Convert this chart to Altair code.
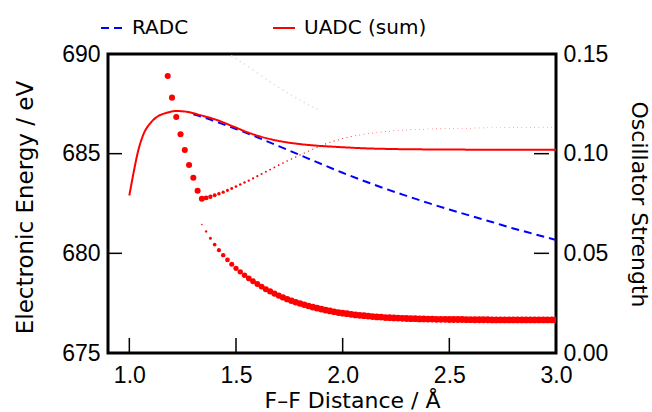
import altair as alt
import numpy as np
import pandas as pd

W, H = 448, 299

# ---- data ----
uadc_x = [1.00, 1.02, 1.04, 1.065, 1.10, 1.135, 1.175, 1.22, 1.27, 1.33, 1.41, 1.49, 1.57,
          1.645, 1.72, 1.80, 1.88, 1.955, 2.10, 2.25, 2.45, 2.70, 3.00]
uadc_E = [682.90, 684.05, 685.08, 685.94, 686.55, 686.88, 687.05, 687.14, 687.10, 686.94, 686.69,
          686.35, 686.01, 685.77, 685.60, 685.48, 685.40, 685.35, 685.27, 685.23, 685.21, 685.20, 685.20]

radc_x = [1.30, 1.35, 1.40, 1.50, 1.60, 1.70, 1.80, 1.90, 2.00, 2.10, 2.20, 2.30, 2.40, 2.50,
          2.60, 2.70, 2.80, 2.90, 3.00]
radc_E = [686.98, 686.82, 686.63, 686.24, 685.82, 685.38, 684.93, 684.48, 684.04, 683.63, 683.24,
          682.88, 682.53, 682.20, 681.88, 681.57, 681.25, 680.96, 680.67]

# upper state (1.18 .. 3.00, step 0.02)
upper_x = np.round(np.arange(1.18, 3.001, 0.02), 2)
upper_E = [688.90, 687.81, 686.84, 685.97, 685.18, 684.43, 683.79, 683.14, 682.74,
           682.78, 682.84, 682.91, 682.99, 683.07, 683.16, 683.25, 683.35, 683.45, 683.55,
           683.65, 683.76, 683.87, 683.98, 684.09, 684.20, 684.31, 684.42, 684.53, 684.63,
           684.73, 684.83, 684.93, 685.03, 685.13, 685.23, 685.32, 685.41, 685.49, 685.57,
           685.64, 685.70, 685.76, 685.81, 685.86, 685.90, 685.94, 685.98, 686.01, 686.04,
           686.07, 686.09, 686.11, 686.13, 686.15, 686.17, 686.18, 686.19, 686.20, 686.21,
           686.22, 686.23, 686.24, 686.24, 686.25, 686.25, 686.26, 686.26, 686.27, 686.27,
           686.28, 686.28, 686.28, 686.29, 686.29, 686.29, 686.30, 686.30, 686.30, 686.30,
           686.31, 686.31, 686.31, 686.31, 686.32, 686.32, 686.32, 686.32, 686.33, 686.33,
           686.33, 686.33, 686.34]
upper_f = [0.074, 0.074, 0.074, 0.074, 0.074, 0.074, 0.074, 0.074, 0.072,
           0.048, 0.038, 0.031, 0.026, 0.022, 0.019, 0.017, 0.015, 0.0135, 0.012,
           0.011, 0.010, 0.0092, 0.0085, 0.0078, 0.0072, 0.0066, 0.0061, 0.0056, 0.0052,
           0.0048, 0.0044, 0.0041, 0.0038, 0.0035, 0.0033, 0.0031, 0.0029, 0.0027, 0.0025,
           0.0024, 0.0022, 0.0021, 0.0020, 0.0020, 0.0019, 0.0019, 0.0018, 0.0018, 0.0017,
           0.0017, 0.0016, 0.0016, 0.0016, 0.0015, 0.0015, 0.0015, 0.0014, 0.0014, 0.0014,
           0.0014, 0.0013, 0.0013, 0.0013, 0.0013, 0.0012, 0.0012, 0.0012, 0.0012, 0.0012,
           0.0011, 0.0011, 0.0011, 0.0011, 0.0011, 0.0011, 0.0010, 0.0010, 0.0010, 0.0010,
           0.0010, 0.0010, 0.0010, 0.0010, 0.0010, 0.0010, 0.0010, 0.0010, 0.0010, 0.0010,
           0.0010, 0.0010, 0.0010]

# lower state (1.34 .. 3.00, step 0.02)
lower_x = np.round(np.arange(1.34, 3.001, 0.02), 2)
lower_E = [681.45, 681.10, 680.76, 680.44, 680.16, 679.91, 679.67, 679.45, 679.25, 679.07,
           678.90, 678.74, 678.60, 678.46, 678.33, 678.20, 678.09, 677.98, 677.88, 677.79,
           677.70, 677.62, 677.55, 677.48, 677.42, 677.36, 677.30, 677.25, 677.20, 677.15,
           677.11, 677.07, 677.03, 677.00, 676.97, 676.94, 676.91, 676.89, 676.87, 676.85,
           676.83, 676.81, 676.80, 676.78, 676.77, 676.76, 676.75, 676.74, 676.73, 676.72,
           676.72, 676.71, 676.71, 676.70, 676.70, 676.69, 676.69, 676.69, 676.68, 676.68,
           676.68, 676.68, 676.67, 676.67, 676.67, 676.67, 676.67, 676.67, 676.66, 676.66,
           676.66, 676.66, 676.66, 676.66, 676.66, 676.66, 676.66, 676.66, 676.66, 676.66,
           676.66, 676.66, 676.66, 676.66]
lower_f = [0.005, 0.011, 0.019, 0.027, 0.034, 0.040, 0.045, 0.050, 0.054, 0.058,
           0.061, 0.064, 0.067, 0.069, 0.071, 0.073, 0.075, 0.077, 0.078, 0.080,
           0.081, 0.082, 0.083, 0.084, 0.085, 0.086, 0.087, 0.087, 0.088, 0.088,
           0.089, 0.089, 0.090, 0.090,
           0.091, 0.091, 0.091, 0.091, 0.091, 0.091, 0.091, 0.091, 0.091, 0.091,
           0.092, 0.092, 0.092, 0.092, 0.092, 0.092, 0.092, 0.092, 0.092, 0.092,
           0.093, 0.093, 0.093, 0.093, 0.093, 0.093, 0.093, 0.093, 0.093, 0.093,
           0.094, 0.094, 0.094, 0.094, 0.094, 0.094, 0.094, 0.094, 0.094, 0.094,
           0.095, 0.095, 0.095, 0.095, 0.095, 0.095, 0.095, 0.095, 0.095, 0.095]

# faint third state
faint_x = [1.48, 1.50, 1.52, 1.54, 1.56, 1.58, 1.60, 1.62, 1.64, 1.66, 1.68, 1.70, 1.72,
           1.74, 1.76, 1.78, 1.80, 1.82, 1.84, 1.86, 1.88]
faint_E = [689.90, 689.77, 689.63, 689.50, 689.35, 689.20, 689.05, 688.90, 688.75, 688.61,
           688.47, 688.33, 688.19, 688.05, 687.93, 687.81, 687.69, 687.57, 687.45, 687.34, 687.24]

series_names = ["RADC", "UADC (sum)"]
series_colors = ["#0000ff", "#ff0000"]
x_ticks = [1.0, 1.5, 2.0, 2.5]
e_ticks = [680, 685]
f_ticks = [0.05, 0.10]

# ---- tables ----
uadc_df = pd.DataFrame({"R": uadc_x, "E": uadc_E, "series": "UADC (sum)"})
radc_df = pd.DataFrame({"R": radc_x, "E": radc_E, "series": "RADC"})
dots_df = pd.concat([
    pd.DataFrame({"R": upper_x, "E": upper_E, "f": upper_f}),
    pd.DataFrame({"R": lower_x, "E": lower_E, "f": lower_f}),
])
faint_df = pd.DataFrame({"R": faint_x, "E": faint_E})

xscale = alt.Scale(domain=[0.9, 3.0], nice=False, zero=False)
yscale = alt.Scale(domain=[675, 690], nice=False, zero=False)

x_axis = alt.Axis(values=[1.0, 1.5, 2.0, 2.5, 3.0], format=".1f", title="F–F Distance / Å",
                  labelPadding=11, labelFlush=False, titleX=244, titleY=54,
                  titleAlign="center", titleBaseline="alphabetic")
y_axis = alt.Axis(values=[675, 680, 685, 690], format="d", title="Electronic Energy / eV",
                  orient="left", labelPadding=8, labelFlush=False, titleX=-83, titleY=153,
                  titleAngle=270, titleAlign="center", titleBaseline="middle", titleFontSize=23)


def X():
    return alt.X("R:Q", scale=xscale, axis=x_axis)


def Y():
    return alt.Y("E:Q", scale=yscale, axis=y_axis)


legend = alt.Legend(orient="none", legendX=-8, legendY=-38, direction="horizontal", title=None,
                    symbolType="stroke", symbolSize=484, symbolStrokeWidth=2,
                    labelFont="DejaVu Sans", labelFontSize=20, labelOffset=8, columnPadding=80,
                    labelColor="black")
color = alt.Color("series:N", scale=alt.Scale(domain=series_names, range=series_colors), legend=legend)
dash = alt.StrokeDash("series:N", scale=alt.Scale(domain=series_names, range=[[8, 5], [1, 0]]),
                      legend=legend)

radc = alt.Chart(radc_df).mark_line(strokeWidth=2, clip=True, interpolate="monotone").encode(
    x=X(), y=Y(), color=color, strokeDash=dash)
uadc = alt.Chart(uadc_df).mark_line(strokeWidth=2, clip=True, interpolate="monotone").encode(
    x=X(), y=Y(), color=color, strokeDash=dash)

faint = alt.Chart(faint_df).mark_circle(color="#e2e2e2", size=3, opacity=1, clip=True).encode(
    x=X(), y=Y())
dots = alt.Chart(dots_df).mark_circle(color="#ff0000", opacity=1, clip=True).encode(
    x=X(), y=Y(),
    size=alt.Size("f:Q", scale=alt.Scale(type="linear", domain=[0, 0.1], range=[0, 50]), legend=None))

xt = alt.Chart(pd.DataFrame({"R": x_ticks})).mark_rule(color="black", strokeWidth=1.5).encode(
    x=X(), y=alt.value(H), y2=alt.value(H - 15))
yt = alt.Chart(pd.DataFrame({"E": e_ticks})).mark_rule(color="black", strokeWidth=1.5).encode(
    y=Y(), x=alt.value(0), x2=alt.value(14))

energy = alt.layer(radc, uadc, faint, dots, xt, yt)

right = alt.Chart(pd.DataFrame({"f": f_ticks})).mark_rule(color="black", strokeWidth=1.5).encode(
    y=alt.Y("f:Q", scale=alt.Scale(domain=[0, 0.15], nice=False, zero=False),
            axis=alt.Axis(values=[0, 0.05, 0.10, 0.15], format=".2f", title="Oscillator Strength",
                          orient="right", labelPadding=7, labelFlush=False, titleX=82, titleY=150,
                          titleAngle=90, titleAlign="center", titleBaseline="middle")),
    x=alt.value(W - 22), x2=alt.value(W - 7))

chart = alt.layer(energy, right).resolve_scale(y="independent").properties(
    width=W, height=H,
    autosize=alt.AutoSizeParams(type="none"),
    padding={"left": 108, "top": 54, "right": 96, "bottom": 59},
).configure_view(stroke="black", strokeWidth=3).configure_axis(
    domain=False, ticks=False, tickSize=0, grid=False, labelColor="black", titleColor="black",
    labelFont="Liberation Sans", labelFontSize=23, titleFont="DejaVu Sans",
    titleFontWeight="normal", titleFontSize=22)

chart.save("out.html", embed_options={"renderer": "svg", "actions": False})
